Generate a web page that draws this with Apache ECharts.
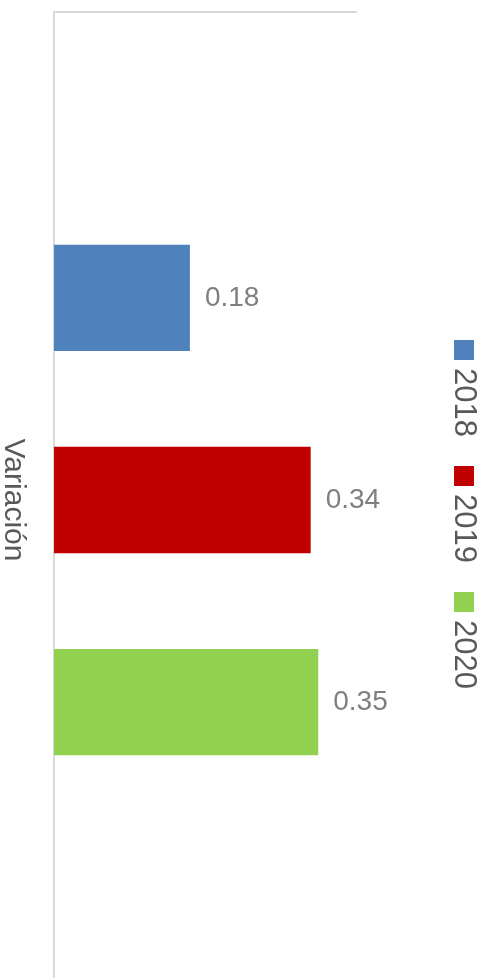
<!DOCTYPE html>
<html>
<head>
<meta charset="utf-8">
<style>
  html, body { margin: 0; padding: 0; background: #ffffff; }
  #chart { width: 488px; height: 978px; }
</style>
<script src="https://cdn.jsdelivr.net/npm/echarts@6/dist/echarts.min.js"></script>
</head>
<body>
<div id="chart"></div>
<script>
// Category and yearly series
const categories = ['Variación'];
const seriesNames = ['2018', '2019', '2020'];
const values2018 = [0.18];
const values2019 = [0.34];
const values2020 = [0.35];
const seriesColors = ['#4f81bd', '#c00000', '#92d050'];
const seriesValues = [values2018, values2019, values2020];

const FONT = 'Liberation Sans, Arial, sans-serif';

const chart = echarts.init(document.getElementById('chart'), null, { renderer: 'canvas' });

// Vertical legend with text turned to read top-to-bottom
const legendX = 454;
const legendTop = 340;
const legendStep = 126;
const legendGraphics = [];
seriesNames.forEach(function (name, i) {
  const y0 = legendTop + i * legendStep;
  legendGraphics.push({
    type: 'rect',
    left: legendX,
    top: y0,
    shape: { width: 20, height: 20 },
    style: { fill: seriesColors[i] }
  });
  legendGraphics.push({
    type: 'text',
    x: legendX + 10,
    y: y0 + 28,
    rotation: -Math.PI / 2,
    style: {
      text: name,
      fill: '#595959',
      font: '31px ' + FONT,
      align: 'left',
      verticalAlign: 'middle'
    }
  });
});

const option = {
  animation: false,
  backgroundColor: '#ffffff',
  grid: {
    left: 54,
    right: 132,
    top: 12,
    bottom: -10,
    containLabel: false,
    outerBoundsMode: 'none'
  },
  xAxis: {
    type: 'value',
    position: 'top',
    min: 0,
    max: 0.4,
    axisLine: { show: true, lineStyle: { color: '#d9d9d9', width: 2 } },
    axisTick: { show: false },
    axisLabel: { show: false },
    splitLine: { show: false }
  },
  yAxis: {
    type: 'category',
    inverse: true,
    data: categories,
    axisLine: { show: true, lineStyle: { color: '#d9d9d9', width: 2 } },
    axisTick: { show: false },
    axisLabel: {
      rotate: -90,
      margin: 26,
      fontSize: 30,
      fontFamily: FONT,
      color: '#595959'
    }
  },
  series: seriesNames.map(function (name, i) {
    return {
      name: name,
      type: 'bar',
      data: seriesValues[i],
      barCategoryGap: '47.7%',
      barGap: '90%',
      itemStyle: { color: seriesColors[i] },
      label: {
        show: true,
        position: 'right',
        distance: 15,
        fontSize: 28,
        fontFamily: FONT,
        color: '#7f7f7f',
        formatter: function (p) { return p.value.toFixed(2); }
      }
    };
  }),
  graphic: legendGraphics
};

chart.setOption(option);
</script>
</body>
</html>
